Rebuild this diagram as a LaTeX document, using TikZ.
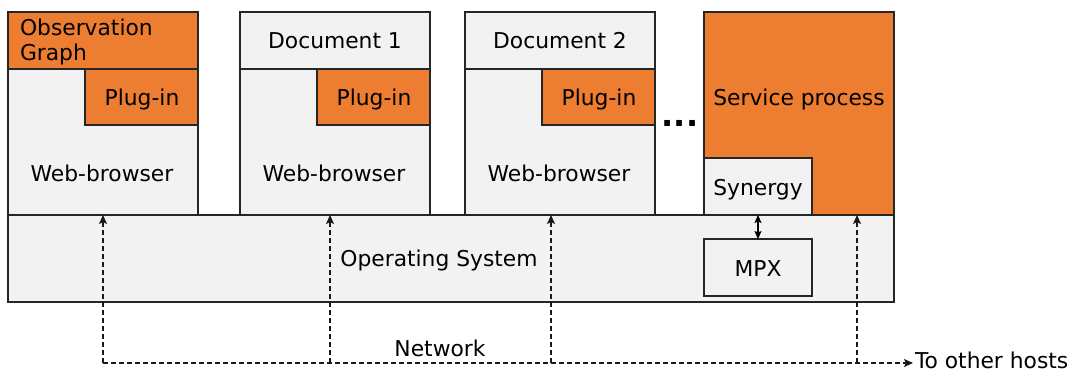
\documentclass[tikz,border=0pt]{standalone}
\usepackage{fontspec}
\setmainfont{DejaVu Sans}
\usetikzlibrary{arrows.meta}
\definecolor{accent}{HTML}{ED7D31}
\definecolor{pale}{HTML}{F2F2F2}
\tikzset{
  x=1pt, y=-1pt,
  every node/.style={font=\fontsize{21.8}{25}\selectfont, inner sep=0pt, outer sep=0pt},
  lbl/.style={anchor=base},
  box/.style={draw=black!85, line width=1.3pt, fill=pale, anchor=north west},
  hot/.style={box, fill=accent},
  net/.style={draw=black!90, line width=1.4pt, dash pattern=on 5pt off 3pt,
              -{Stealth[length=9pt,width=8pt,inset=2pt]}},
  link/.style={draw=black, line width=1.1pt,
              {Stealth[length=8pt,width=7pt,inset=1.5pt]}-{Stealth[length=8pt,width=7pt,inset=1.5pt]}},
}
\begin{document}
\begin{tikzpicture}
\useasboundingbox (0,0) rectangle (1076,372);

% operating system layer
\node[box, minimum width=886pt, minimum height=87pt] (os) at (8,215) {};
\node[lbl] (oslbl) at (439,266.7) {Operating System};
\node[box, minimum width=108pt, minimum height=57pt] (mpx) at (704,239) {};
\node[lbl] (mpxlbl) at (758,276.7) {MPX};

% first browser with the observation graph
\node[box, minimum width=190pt, minimum height=203pt] (wb1) at (8,12) {};
\node[hot, minimum width=190pt, minimum height=57pt] (og) at (8,12) {};
\node[anchor=base west] (oglbl1) at (20,35) {Observation};
\node[anchor=base west] (oglbl2) at (20,60.7) {Graph};
\node[hot, minimum width=113pt, minimum height=56pt] (pi1) at (85,69) {};
\node[lbl] (pilbl1) at (142,105) {Plug-in};
\node[lbl] (wblbl1) at (102,181.7) {Web-browser};

% second browser
\node[box, minimum width=190pt, minimum height=203pt] (wb2) at (240,12) {};
\node[box, minimum width=190pt, minimum height=57pt] (doc1) at (240,12) {};
\node[lbl] (doclbl1) at (335,48) {Document 1};
\node[hot, minimum width=113pt, minimum height=56pt] (pi2) at (317,69) {};
\node[lbl] (pilbl2) at (374,105) {Plug-in};
\node[lbl] (wblbl2) at (334,181.7) {Web-browser};

% third browser
\node[box, minimum width=190pt, minimum height=203pt] (wb3) at (465,12) {};
\node[box, minimum width=190pt, minimum height=57pt] (doc2) at (465,12) {};
\node[lbl] (doclbl2) at (560,48) {Document 2};
\node[hot, minimum width=113pt, minimum height=56pt] (pi3) at (542,69) {};
\node[lbl] (pilbl3) at (599,105) {Plug-in};
\node[lbl] (wblbl3) at (559,181.7) {Web-browser};

\node[font=\fontsize{32}{32}\bfseries] (dots) at (680,123) {...};

% service process
\node[hot, minimum width=190pt, minimum height=203pt] (svc) at (704,12) {};
\node[lbl] (svclbl) at (799,105) {Service process};
\node[box, minimum width=108pt, minimum height=57pt] (syn) at (704,158) {};
\node[lbl] (synlbl) at (758,195) {Synergy};

\draw[link] (syn.south) -- (mpx.north);

% network
\coordinate (n1) at (103,363);
\coordinate (n2) at (330,363);
\coordinate (n3) at (551,363);
\coordinate (n4) at (857,363);
\node[anchor=base west] (hosts) at (915,368) {To other hosts};
\node[lbl] (netlbl) at (440,356) {Network};
\draw[net] (n1) -- (n1 |- os.north);
\draw[net] (n2) -- (n2 |- os.north);
\draw[net] (n3) -- (n3 |- os.north);
\draw[net] (n4) -- (n4 |- os.north);
\draw[net] (n1) -- ([xshift=-2pt]hosts.west |- n1);
\end{tikzpicture}
\end{document}
